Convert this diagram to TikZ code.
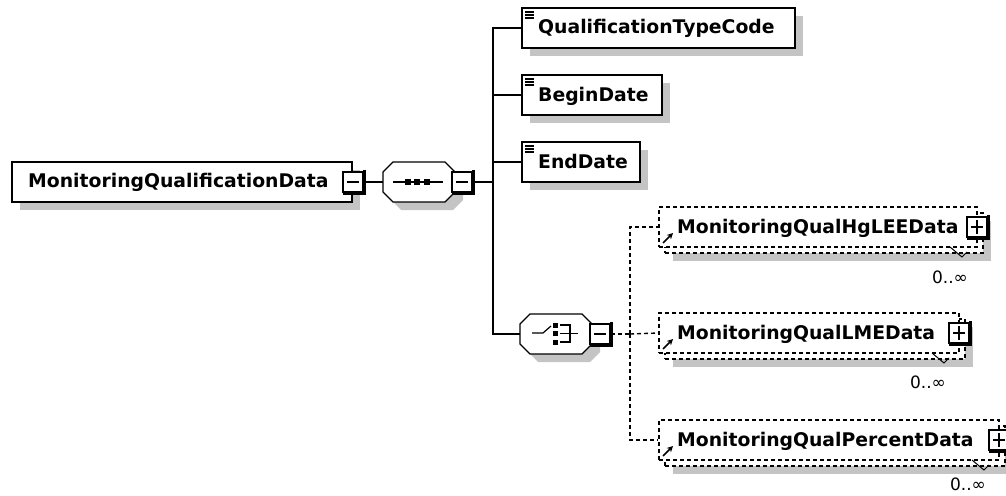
\documentclass[tikz,border=0pt]{standalone}
\usepackage{fontspec}
\setmainfont{DejaVu Sans}
\usetikzlibrary{shadows,calc,arrows.meta}
\definecolor{shadowgray}{HTML}{C4C4C4}
\newcommand\xsdEdge[1]{\draw[line width=2.2pt] ([xshift=1pt,yshift=1pt]#1.north east) -- ([xshift=1pt,yshift=-1pt]#1.south east) -- ([xshift=1pt,yshift=-1pt]#1.south west);}
\newcommand\xsdMinus[1]{\xsdEdge{#1}\draw[line width=1.2pt] ([xshift=-6pt]#1.center) -- ([xshift=6pt]#1.center);}
\newcommand\xsdPlus[1]{\xsdEdge{#1}\draw[line width=1.2pt] ([xshift=-6pt]#1.center) -- ([xshift=6pt]#1.center) ([yshift=-7pt]#1.center) -- ([yshift=7pt]#1.center);}
\tikzset{
  x=1pt, y=-1pt,
  namefont/.style={font=\fontsize{18.8}{22}\selectfont\bfseries, inner sep=0pt},
  multfont/.style={font=\fontsize{17}{19}\selectfont, inner sep=0pt},
  elembox/.style={draw=black, line width=1.2pt, fill=white, rectangle, inner sep=0pt, minimum height=40pt,
    drop shadow={shadow xshift=8pt, shadow yshift=-8pt, fill=shadowgray, opacity=1}},
  refback/.style={draw=black, line width=1.2pt, dash pattern=on 4pt off 3pt, fill=white, rectangle, inner sep=0pt, minimum height=40pt,
    drop shadow={shadow xshift=8pt, shadow yshift=-8pt, fill=shadowgray, opacity=1}},
  reffront/.style={draw=black, line width=1.2pt, dash pattern=on 4pt off 3pt, fill=white, rectangle, inner sep=0pt, minimum height=40pt},
  togglebox/.style={draw=black, line width=1.1pt, fill=white, minimum width=20pt, minimum height=20pt, inner sep=0pt},
  compbox/.style={minimum width=72pt, minimum height=40pt, inner sep=0pt},
  conn/.style={line width=1.3pt},
  dconn/.style={line width=1.4pt, dash pattern=on 4pt off 3pt},
  icon/.style={line width=1.1pt},
  refarrow/.style={-{Stealth[length=6pt,width=6pt]}, line width=1.5pt},
  compositor/.pic={
    \fill[shadowgray, shift={(8,8)}] (-26,-20) -- (26,-20) -- (36,-10) -- (36,10) -- (26,20) -- (-26,20) -- (-36,10) -- (-36,-10) -- cycle;
    \draw[fill=white, line width=1.2pt] (-26,-20) -- (26,-20) -- (36,-10) -- (36,10) -- (26,20) -- (-26,20) -- (-36,10) -- (-36,-10) -- cycle;
  },
}
\begin{document}
\begin{tikzpicture}
\useasboundingbox (0,0) rectangle (1006,495);
\clip (0,0) rectangle (1006,495);

% ---------- main element ----------
\node[elembox, minimum width=340pt] (main) at (182,182) {};
\node[namefont, anchor=base west] (maintext) at (28,187.5) {MonitoringQualificationData};
\node[togglebox] (mainbtn) at (353,182) {};
\xsdMinus{mainbtn}

% ---------- sequence compositor ----------
\pic at (419,182) {compositor};
\node[compbox] (seq) at (419,182) {};
\draw[line width=1.2pt] (393,182) -- (443,182);
\fill (405,179) rectangle (411,185);
\fill (414,179) rectangle (420,185);
\fill (424,179) rectangle (430,185);
\node[togglebox] (seqbtn) at (462,182) {};
\xsdMinus{seqbtn}

\draw[conn] (mainbtn.east) -- (seq.west);
\coordinate (j1) at (493,182);
\draw[conn] (seqbtn.east) -- (j1);

% ---------- simple elements ----------
\node[elembox, minimum width=273pt] (qtc) at (658.5,28) {};
\node[namefont, anchor=base west] (qtctext) at (538,34) {QualificationTypeCode};
\node[elembox, minimum width=140pt] (begin) at (592,95) {};
\node[namefont, anchor=base west] (begintext) at (538,101) {BeginDate};
\node[elembox, minimum width=118pt] (end) at (581,162) {};
\node[namefont, anchor=base west] (endtext) at (538,168) {EndDate};
\foreach \t in {8,75,142}{
  \draw[icon] (525,\t+4) -- (534,\t+4) (525,\t+7) -- (534,\t+7) (525,\t+10) -- (534,\t+10);
}

% ---------- choice compositor ----------
\pic at (556,334) {compositor};
\node[compbox] (choice) at (556,334) {};
\draw[line width=1.2pt] (532,333) -- (543,333) -- (551,326);
\fill (553,322.5) rectangle (558,327.5);
\fill (553,331) rectangle (558,336);
\fill (553,339.5) rectangle (558,344.5);
\draw[line width=1.2pt] (560,325) -- (570,325) -- (570,342) -- (560,342) (560,333.5) -- (578,333.5);
\node[togglebox] (choicebtn) at (600,334) {};
\xsdMinus{choicebtn}

\draw[conn] (j1) |- (qtc.west);
\draw[conn] (j1) |- (begin.west);
\draw[conn] (j1) |- (end.west);
\draw[conn] (j1) |- (choice.west);

% ---------- referenced elements (0..unbounded) ----------
% HgLEE
\node[refback, minimum width=318pt] (hgback) at (824,233) {};
\node[reffront, minimum width=318pt] (hg) at (818,227) {};
\node[namefont, anchor=base west] (hgtext) at (677,233) {MonitoringQualHgLEEData};
\draw[refarrow] (663,243) -- (673,233);
\node[togglebox] (hgbtn) at (977,227) {};
\xsdPlus{hgbtn}
\draw[line width=1pt] (950,247) -- (962,257) -- (967,252);
\node[multfont] (hgmult) at (950,277) {0..∞};

% LME
\node[refback, minimum width=300pt] (lmeback) at (815,339) {};
\node[reffront, minimum width=300pt] (lme) at (809,333) {};
\node[namefont, anchor=base west] (lmetext) at (677,339) {MonitoringQualLMEData};
\draw[refarrow] (663,349) -- (673,339);
\node[togglebox] (lmebtn) at (959,333) {};
\xsdPlus{lmebtn}
\draw[line width=1pt] (932,353) -- (944,363) -- (949,358);
\node[multfont] (lmemult) at (928,382) {0..∞};

% Percent
\node[refback, minimum width=340pt] (pctback) at (835,446) {};
\node[reffront, minimum width=340pt] (pct) at (829,440) {};
\node[namefont, anchor=base west] (pcttext) at (677,446) {MonitoringQualPercentData};
\draw[refarrow] (663,456) -- (673,446);
\node[togglebox] (pctbtn) at (999,440) {};
\xsdPlus{pctbtn}
\draw[line width=1pt] (972,460) -- (984,470) -- (989,465);
\node[multfont] (pctmult) at (968,484) {0..∞};

% dashed connectors of the choice
\coordinate (j2) at (630,334);
\draw[dconn] (choicebtn.east) -- (j2);
\draw[dconn] (j2) |- (hg.west);
\draw[dconn] (j2) -- (lme.west);
\draw[dconn] (j2) |- (pct.west);
\end{tikzpicture}
\end{document}
